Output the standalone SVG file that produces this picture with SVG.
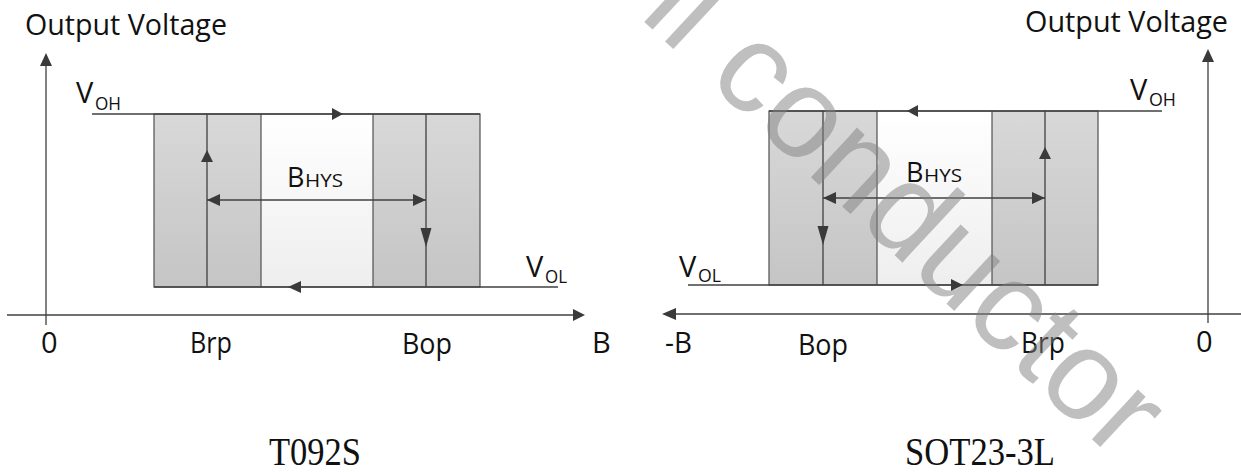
<svg xmlns="http://www.w3.org/2000/svg" width="1241" height="472" viewBox="0 0 1241 472">
<style>
.ln{stroke:#404040;stroke-width:1.3;fill:none}
.ol{stroke:#505050;stroke-width:1.2;fill:none}
.ah{fill:#3a3a3a;stroke:none}
.t{font-family:"Open Sans","Noto Sans",sans-serif;fill:#111}
.big{font-size:29px}
.sub{font-size:19px}
.bh{font-size:27px}
.pk{font-family:"Liberation Serif","Noto Serif",serif;font-size:39px;fill:#111}
.wm{font-family:"Liberation Sans",Arial,sans-serif;font-size:128px;fill:#808080;fill-opacity:0.5}
</style>
<defs>
<linearGradient id="gray" x1="0" y1="0" x2="0" y2="1"><stop offset="0" stop-color="#d8d8d8"/><stop offset="1" stop-color="#c5c5c5"/></linearGradient>
<linearGradient id="light" x1="0" y1="0" x2="0" y2="1"><stop offset="0" stop-color="#ffffff"/><stop offset="1" stop-color="#eeeeee"/></linearGradient>
</defs>
<rect width="1241" height="472" fill="#fff"/>

<!-- LEFT CHART -->
<g id="left-regions">
<rect x="154" y="114" width="107" height="173" fill="url(#gray)"/>
<rect x="261" y="114" width="112" height="173" fill="url(#light)"/>
<rect x="373" y="114" width="107" height="173" fill="url(#gray)"/>
<rect class="ol" x="154" y="114" width="326" height="173"/>
<line class="ol" x1="261" y1="114" x2="261" y2="287"/>
<line class="ol" x1="373" y1="114" x2="373" y2="287"/>
</g>
<g id="left-connectors">
<line class="ln" x1="46" y1="64" x2="46" y2="325"/>
<polygon class="ah" points="46,53 40,66 52,66"/>
<line class="ln" x1="7" y1="315" x2="575" y2="315"/>
<polygon class="ah" points="585,315 573,309 573,321"/>
<line class="ln" x1="92" y1="114" x2="480" y2="114"/>
<polygon class="ah" points="343,114 332,108 332,120"/>
<line class="ln" x1="154" y1="287" x2="558" y2="287"/>
<polygon class="ah" points="288,287 301,281 301,293"/>
<line class="ln" x1="207" y1="114" x2="207" y2="287"/>
<polygon class="ah" points="207,150 201,162 213,162"/>
<line class="ln" x1="426" y1="114" x2="426" y2="287"/>
<polygon class="ah" points="426,247 420.5,228 431.5,228"/>
<line class="ln" x1="207" y1="200" x2="426" y2="200"/>
<polygon class="ah" points="207,200 220,194 220,206"/>
<polygon class="ah" points="426,200 413,194 413,206"/>
</g>
<g id="left-labels">
<text class="t big" x="25" y="35" textLength="202" lengthAdjust="spacingAndGlyphs">Output Voltage</text>
<text class="t big" x="76" y="103">V</text><text class="t sub" x="95" y="110" textLength="26" lengthAdjust="spacingAndGlyphs">OH</text>
<text class="t big" x="526" y="277">V</text><text class="t sub" x="545" y="283" textLength="22" lengthAdjust="spacingAndGlyphs">OL</text>
<text class="t bh" x="287" y="187">B</text><text class="t sub" x="305" y="187" textLength="38" lengthAdjust="spacingAndGlyphs">HYS</text>
<text class="t big" x="41" y="353">0</text>
<text class="t big" x="190" y="353" textLength="42" lengthAdjust="spacingAndGlyphs">Brp</text>
<text class="t big" x="402" y="354" textLength="50" lengthAdjust="spacingAndGlyphs">Bop</text>
<text class="t big" x="592" y="353">B</text>
<text class="pk" x="269" y="465" textLength="92" lengthAdjust="spacingAndGlyphs">T092S</text>
</g>

<!-- RIGHT CHART -->
<g id="right-regions">
<rect x="769" y="111" width="108" height="174" fill="url(#gray)"/>
<rect x="877" y="111" width="115" height="174" fill="url(#light)"/>
<rect x="992" y="111" width="106" height="174" fill="url(#gray)"/>
<rect class="ol" x="769" y="111" width="329" height="174"/>
<line class="ol" x1="877" y1="111" x2="877" y2="285"/>
<line class="ol" x1="992" y1="111" x2="992" y2="285"/>
</g>
<g id="right-connectors">
<line class="ln" x1="1208" y1="60" x2="1208" y2="323"/>
<polygon class="ah" points="1208,49 1202,62 1214,62"/>
<line class="ln" x1="674" y1="314" x2="1241" y2="314"/>
<polygon class="ah" points="662,314 676,308 676,320"/>
<line class="ln" x1="769" y1="111" x2="1162" y2="111"/>
<polygon class="ah" points="907,111 918,105 918,117"/>
<line class="ln" x1="688" y1="285" x2="1098" y2="285"/>
<polygon class="ah" points="963,285 951,279 951,291"/>
<line class="ln" x1="1045" y1="111" x2="1045" y2="285"/>
<polygon class="ah" points="1045,147 1039,159 1051,159"/>
<line class="ln" x1="823" y1="111" x2="823" y2="285"/>
<polygon class="ah" points="823,245 817.5,226 828.5,226"/>
<line class="ln" x1="823" y1="198" x2="1045" y2="198"/>
<polygon class="ah" points="823,198 836,192 836,204"/>
<polygon class="ah" points="1045,198 1032,192 1032,204"/>
</g>
<g id="right-labels">
<text class="t big" x="1025" y="32" textLength="203" lengthAdjust="spacingAndGlyphs">Output Voltage</text>
<text class="t big" x="1130" y="100">V</text><text class="t sub" x="1149" y="106" textLength="27" lengthAdjust="spacingAndGlyphs">OH</text>
<text class="t big" x="679" y="277">V</text><text class="t sub" x="698" y="282" textLength="23" lengthAdjust="spacingAndGlyphs">OL</text>
<text class="t bh" x="906" y="182">B</text><text class="t sub" x="924" y="182" textLength="38" lengthAdjust="spacingAndGlyphs">HYS</text>
<text class="t big" x="665" y="353" textLength="27" lengthAdjust="spacingAndGlyphs">-B</text>
<text class="t big" x="798" y="355" textLength="50" lengthAdjust="spacingAndGlyphs">Bop</text>
<text class="t big" x="1021" y="353" textLength="44" lengthAdjust="spacingAndGlyphs">Brp</text>
<text class="t big" x="1196" y="352">0</text>
<text class="pk" x="905" y="465" textLength="150" lengthAdjust="spacingAndGlyphs">SOT23-3L</text>
</g>

<!-- watermark -->
<text class="wm" x="638" y="16" transform="rotate(43 638 16)">ll conductor</text>
</svg>
